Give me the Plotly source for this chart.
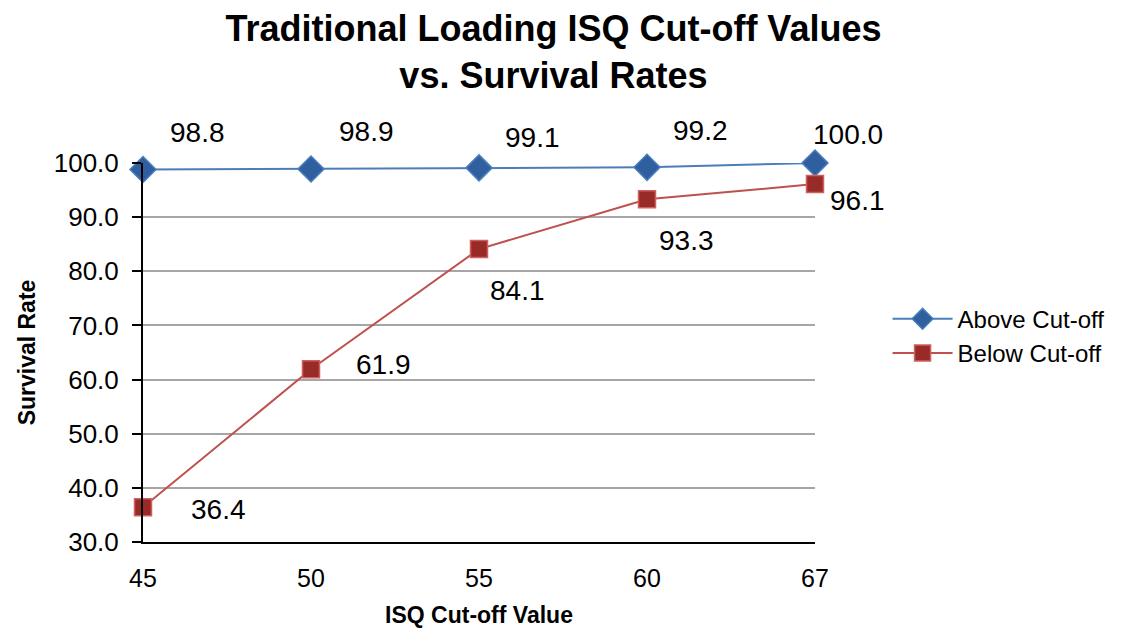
''' ISQ cut-off vs survival chart '''
import plotly.graph_objects as go

cutoffs = ['45', '50', '55', '60', '67']
above_cutoff = [98.8, 98.9, 99.1, 99.2, 100.0]
below_cutoff = [36.4, 61.9, 84.1, 93.3, 96.1]

FONT = 'Liberation Sans, Arial, Helvetica, sans-serif'

fig = go.Figure()

fig.add_trace(
    go.Scatter(
        x=cutoffs,
        y=above_cutoff,
        mode='lines+markers',
        name='Above Cut-off',
        cliponaxis=False,
        line=dict(color='#4a7ebb', width=2),
        marker=dict(symbol='diamond', size=20, color='#2f5f9e',
                    line=dict(color='#4a7ebb', width=1.5))
    )
)

fig.add_trace(
    go.Scatter(
        x=cutoffs,
        y=below_cutoff,
        mode='lines+markers',
        name='Below Cut-off',
        cliponaxis=False,
        line=dict(color='#c0504d', width=2),
        marker=dict(symbol='square', size=17, color='#982b28',
                    line=dict(color='#d0605d', width=1.5))
    )
)

# data labels: above series sits over-right, below series to the right / below-right
above_shift = [(54, 37), (55, 37), (53, 30), (53, 37), (33, 29)]
below_shift = [(75, -2), (72, 5), (38, -41), (39, -41), (42, -16)]
for i in range(len(cutoffs)):
    dx, dy = above_shift[i]
    fig.add_annotation(x=i, y=above_cutoff[i], text=f'{above_cutoff[i]:.1f}',
                       showarrow=False, xshift=dx, yshift=dy,
                       font=dict(size=28, color='black', family=FONT))
    dx, dy = below_shift[i]
    fig.add_annotation(x=i, y=below_cutoff[i], text=f'{below_cutoff[i]:.1f}',
                       showarrow=False, xshift=dx, yshift=dy,
                       font=dict(size=28, color='black', family=FONT))

# page body adds ~8px offset, so margins are trimmed to land the plot where the reference has it
fig.update_layout(
    width=1134,
    height=635,
    plot_bgcolor='white',
    paper_bgcolor='white',
    font=dict(family=FONT, color='black', size=24),
    title=dict(
        text='<b>Traditional Loading ISQ Cut-off Values<br>vs. Survival Rates</b>',
        x=0.481, xanchor='center', y=0.948, yanchor='middle',
        font=dict(size=36, family=FONT, color='black')
    ),
    margin=dict(l=135, r=327, t=155, b=101),
    legend=dict(
        x=1.108, xanchor='left', y=0.543, yanchor='middle',
        font=dict(size=24, family=FONT, color='black'),
        bgcolor='rgba(0,0,0,0)', tracegroupgap=0, itemwidth=60
    ),
    xaxis=dict(
        type='category',
        range=[0, 4],
        automargin=False,
        showgrid=False,
        showline=True, linecolor='black', linewidth=2,
        ticks='', tickfont=dict(size=25),
        ticklabelstandoff=13,
        title=dict(text='<b>ISQ Cut-off Value</b>', font=dict(size=23), standoff=16)
    ),
    yaxis=dict(
        range=[30, 100],
        dtick=10,
        tickformat='.1f',
        automargin=False,
        showgrid=True, gridcolor='#a6a6a6', gridwidth=2,
        showline=True, linecolor='black', linewidth=2,
        ticks='outside', ticklen=9, tickcolor='black', tickwidth=2,
        tickfont=dict(size=26),
        ticklabelstandoff=8,
        zeroline=False,
        title=dict(text='<b>Survival Rate</b>', font=dict(size=23), standoff=12)
    )
)

fig.write_html('out.html')
